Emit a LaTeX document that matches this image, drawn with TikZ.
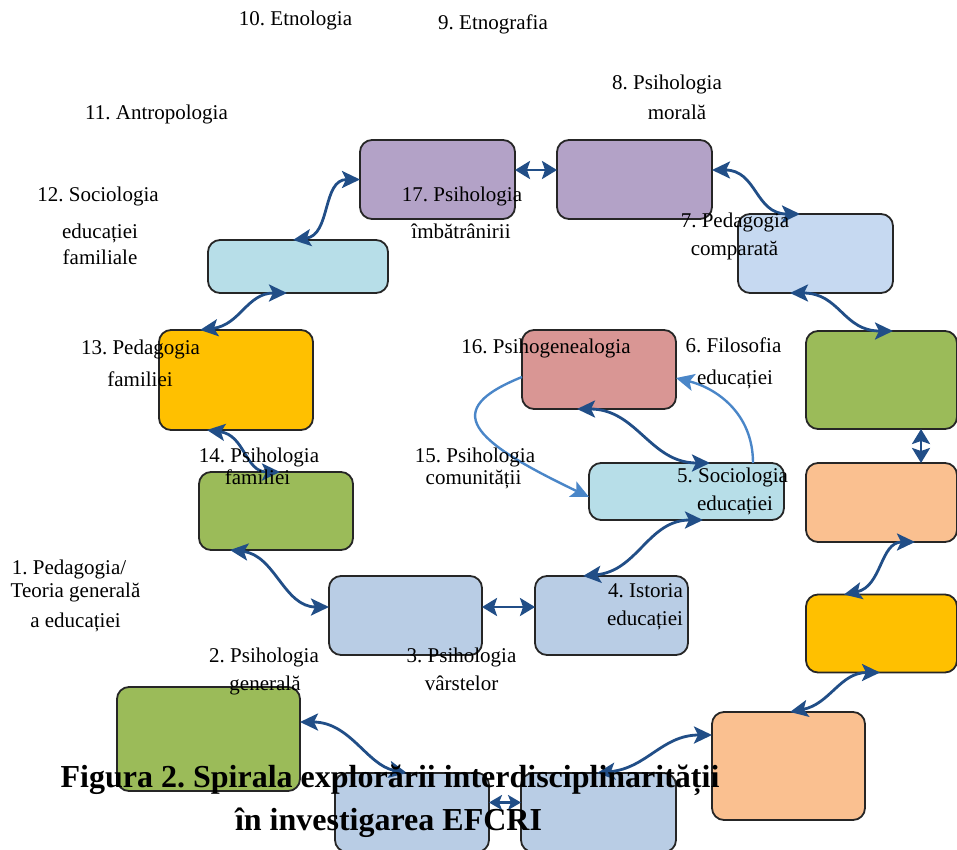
\documentclass[tikz,border=0pt]{standalone}
\usepackage{fontspec}
\setmainfont{Liberation Serif}
\usetikzlibrary{arrows.meta}
\frenchspacing

\definecolor{cGreen}{HTML}{9BBB59}
\definecolor{cYellow}{HTML}{FFC000}
\definecolor{cPeach}{HTML}{FAC090}
\definecolor{cAqua}{HTML}{B7DEE8}
\definecolor{cSky}{HTML}{C6D9F1}
\definecolor{cSteel}{HTML}{B9CDE5}
\definecolor{cPurple}{HTML}{B3A2C7}
\definecolor{cRose}{HTML}{D99694}
\definecolor{cArrow}{RGB}{33,78,135}
\definecolor{cLight}{RGB}{74,134,200}

\begin{document}
\begin{tikzpicture}[x=1pt,y=-1pt,
  box/.style={draw=black!85, line width=1.8pt, rounded corners=12pt,
              inner sep=0pt, outer sep=0pt},
  lbl/.style={font=\fontsize{21}{25}\selectfont, inner sep=0pt, anchor=base},
  ttl/.style={font=\bfseries\fontsize{32}{40}\selectfont, inner sep=0pt, anchor=base},
  tip/.tip={Stealth[length=18pt,width=17pt,inset=4pt]},
  shorttip/.tip={Stealth[length=15pt,width=18pt,inset=3pt]},
  tinytip/.tip={Stealth[length=13pt,width=15pt,inset=3pt]},
  link/.style={draw=cArrow, line width=2.8pt, tip-tip},
  pair/.style={draw=cArrow, line width=2.8pt, shorttip-shorttip},
  flow/.style={draw=cLight, line width=2.4pt, -tip},
]
\useasboundingbox (0,0) rectangle (957,850);

% boxes of the spiral
\node[box, fill=cGreen,  minimum width=183pt, minimum height=104pt] (b1)  at (208.5,739) {};
\node[box, fill=cSteel,  minimum width=154pt, minimum height=79pt]  (bl)  at (412,812.5) {};
\node[box, fill=cSteel,  minimum width=155pt, minimum height=79pt]  (br)  at (598.5,812.5) {};
\node[box, fill=cPeach,  minimum width=153pt, minimum height=108pt] (oBR) at (788.5,766) {};
\node[box, fill=cYellow, minimum width=151pt, minimum height=78pt]  (yR)  at (881.5,633.5) {};
\node[box, fill=cPeach,  minimum width=151pt, minimum height=79pt]  (oR)  at (881.5,502.5) {};
\node[box, fill=cGreen,  minimum width=151pt, minimum height=98pt]  (gR)  at (881.5,380) {};
\node[box, fill=cSky,    minimum width=155pt, minimum height=79pt]  (b7)  at (815.5,253.5) {};
\node[box, fill=cPurple, minimum width=155pt, minimum height=79pt]  (b8)  at (634.5,179.5) {};
\node[box, fill=cPurple, minimum width=155pt, minimum height=79pt]  (b17) at (437.5,179.5) {};
\node[box, fill=cAqua,   minimum width=180pt, minimum height=53pt]  (b12) at (298,266.5) {};
\node[box, fill=cYellow, minimum width=154pt, minimum height=100pt] (b13) at (236,380) {};
\node[box, fill=cGreen,  minimum width=154pt, minimum height=78pt]  (b14) at (276,511) {};
\node[box, fill=cSteel,  minimum width=153pt, minimum height=79pt]  (b2)  at (405.5,615.5) {};
\node[box, fill=cSteel,  minimum width=153pt, minimum height=79pt]  (b3)  at (611.5,615.5) {};
\node[box, fill=cAqua,   minimum width=195pt, minimum height=57pt]  (b5)  at (686.5,491.5) {};
\node[box, fill=cRose,   minimum width=154pt, minimum height=79pt]  (b16) at (599,369.5) {};

% dark two-way connectors
\draw[link] ([yshift=17pt]b1.east) .. controls +(50,0) and +(-40,-8) .. ([xshift=-5pt]bl.north);
\draw[draw=cArrow, line width=2.8pt, tinytip-tinytip] ([yshift=10pt]bl.east) -- ([yshift=10pt]br.west);
\draw[link] ([xshift=-1.5pt]br.north) .. controls +(50,-5) and +(-50,0) .. ([yshift=31pt]oBR.west);
\draw[link] ([xshift=1.5pt]oBR.north) .. controls +(40,-8) and +(-40,0) .. ([xshift=-1.5pt]yR.south);
\draw[link] ([xshift=-37.5pt]yR.north) .. controls +(38,-8) and +(-35,0) .. ([xshift=33.5pt]oR.south);
\draw[pair] ([xshift=39.5pt]oR.north) -- ([xshift=39.5pt]gR.south);
\draw[link] ([xshift=-25.5pt]b7.south) .. controls +(50,0) and +(-50,0) .. ([xshift=11.5pt]gR.north);
\draw[link] ([yshift=9.5pt]b8.east) .. controls +(45,0) and +(-45,0) .. ([xshift=-15.5pt]b7.north);
\draw[pair] ([yshift=9.5pt]b17.east) -- ([yshift=9.5pt]b8.west);
\draw[link] ([xshift=-5pt]b12.north) .. controls +(38,-5) and +(-38,0) .. (b17.west);
\draw[link] ([xshift=-36pt]b13.north) .. controls +(40,-5) and +(-40,0) .. ([xshift=-11pt]b12.south);
\draw[link] ([xshift=-29pt]b13.south) .. controls +(38,5) and +(-35,0) .. ([xshift=4pt]b14.north);
\draw[link] ([xshift=-46pt]b14.south) .. controls +(45,5) and +(-45,0) .. ([yshift=8.5pt]b2.west);
\draw[pair] ([yshift=8.5pt]b2.east) -- ([yshift=8.5pt]b3.west);
\draw[link] ([xshift=-28.5pt]b3.north) .. controls +(55,-5) and +(-55,0) .. ([xshift=16.5pt]b5.south);
\draw[link] ([xshift=-22pt]b16.south) .. controls +(60,0) and +(-60,0) .. ([xshift=23.5pt]b5.north);

% light one-way connectors
\draw[flow] ([yshift=-7.5pt]b16.west) .. controls +(-82,33) and +(-119,-57) .. ([yshift=-5.5pt]b5.west);
\draw[flow] ([xshift=66.5pt]b5.north) .. controls +(0,-50) and +(40,10) .. ([yshift=-8.5pt]b16.east);

% labels
\node[lbl] (l10)  at (295.5,26)  {10. Etnologia};
\node[lbl] (l9)   at (493,30)    {9. Etnografia};
\node[lbl] (l8a)  at (667,90)    {8. Psihologia};
\node[lbl] (l8b)  at (677,120)   {morală};
\node[lbl] (l11)  at (156.5,120) {11. Antropologia};
\node[lbl] (l12a) at (98,202)    {12. Sociologia};
\node[lbl] (l12b) at (100,238)   {educației};
\node[lbl] (l12c) at (100,264)   {familiale};
\node[lbl] (l17a) at (462,202)   {17. Psihologia};
\node[lbl] (l17b) at (461,238)   {îmbătrânirii};
\node[lbl] (l7a)  at (735,227)   {7. Pedagogia};
\node[lbl] (l7b)  at (734.5,255) {comparată};
\node[lbl] (l13a) at (140.5,354) {13. Pedagogia};
\node[lbl] (l13b) at (140,386)   {familiei};
\node[lbl] (l16)  at (546,353)   {16. Psihogenealogia};
\node[lbl] (l6a)  at (733.5,352) {6. Filosofia};
\node[lbl] (l6b)  at (735,384)   {educației};
\node[lbl] (l14a) at (259,462)   {14. Psihologia};
\node[lbl] (l14b) at (257.5,484) {familiei};
\node[lbl] (l15a) at (475,462)   {15. Psihologia};
\node[lbl] (l15b) at (473.5,484) {comunității};
\node[lbl] (l5a)  at (732.5,482) {5. Sociologia};
\node[lbl] (l5b)  at (735,510)   {educației};
\node[lbl] (l1a)  at (69,574)    {1. Pedagogia/};
\node[lbl] (l1b)  at (75.5,597)  {Teoria generală};
\node[lbl] (l1c)  at (75.5,627)  {a educației};
\node[lbl] (l4a)  at (645.5,597) {4. Istoria};
\node[lbl] (l4b)  at (645,625)   {educației};
\node[lbl] (l2a)  at (264,662)   {2. Psihologia};
\node[lbl] (l2b)  at (265,690)   {generală};
\node[lbl] (l3a)  at (461.5,662) {3. Psihologia};
\node[lbl] (l3b)  at (461.5,690) {vârstelor};

% caption over the drawing
\node[ttl] (t1) at (390,787)   {Figura 2. Spirala explorării interdisciplinarității};
\node[ttl] (t2) at (388.5,830) {în investigarea EFCRI};
\end{tikzpicture}
\end{document}
